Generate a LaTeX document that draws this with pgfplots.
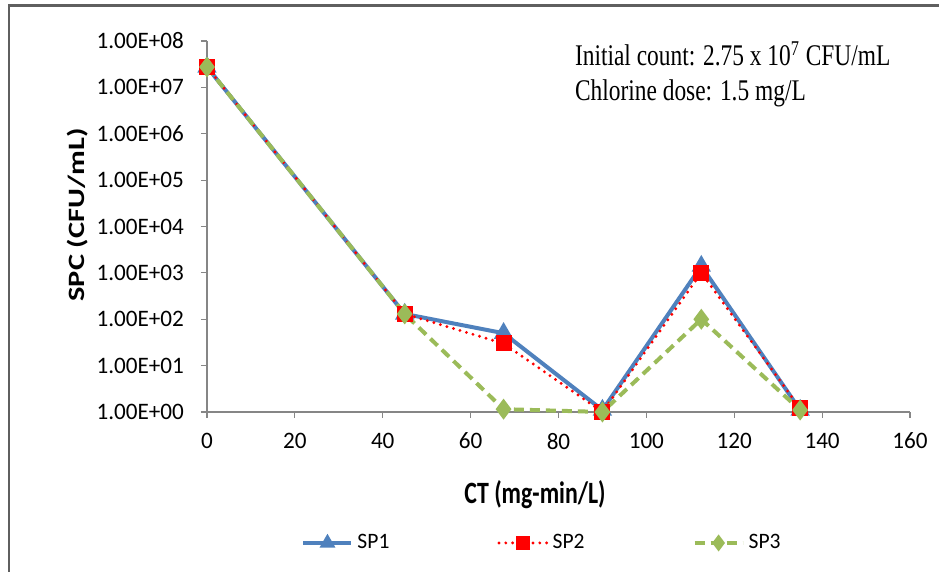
\documentclass[border=0pt]{standalone}
\usepackage{pgfplots}
\pgfplotsset{compat=1.18}
\usepackage{fontspec}
\setmainfont{Carlito}
\newfontfamily\tickfont[FakeStretch=0.98]{Carlito}
\newfontfamily\labfont[FakeStretch=0.77]{Carlito}
\newfontfamily\ylabfont[FakeStretch=1.3]{Carlito}
\newfontfamily\noteFont[FakeStretch=0.78]{Liberation Serif}
\definecolor{spone}{HTML}{4F81BD}
\definecolor{sptwo}{HTML}{FF0000}
\definecolor{spthree}{HTML}{9BBB59}
\definecolor{axgray}{HTML}{868686}
\definecolor{framegray}{HTML}{5F5F5F}

\pgfplotstableread{
ct    sp1      sp2      sp3
0     2.75e7   2.75e7   2.75e7
45    130      130      130
67.5  50       30       1.15
90    1.1      1.0      1.0
112.5 1400     1000     100
135   1.1      1.2      1.1
}\spcdata

\begin{document}
\begin{tikzpicture}
\useasboundingbox (-103.5pt,-80pt) rectangle (366pt,206pt);
\draw[framegray, line width=1.1pt] (-99pt,-81pt) -- (-99pt,203.25pt) -- (367pt,203.25pt);
\begin{axis}[
  at={(0,0)}, anchor=south west,
  scale only axis, width=351.5pt, height=185.5pt,
  xmin=0, xmax=160, xtick={0,20,...,160},
  ymode=log, ymin=1, ymax=1e8,
  ytick={1,10,100,1000,10000,100000,1000000,10000000,100000000},
  yticklabels={1.00E+00,1.00E+01,1.00E+02,1.00E+03,1.00E+04,1.00E+05,1.00E+06,1.00E+07,1.00E+08},
  yminorticks=false,
  axis x line*=bottom, axis y line*=left,
  axis line style={axgray, line width=0.6pt},
  tick style={axgray, line width=0.6pt},
  tick align=outside, major tick length=3pt,
  /pgf/number format/assume math mode=true,
  tick label style={font=\tickfont\fontsize{11.8}{13}\selectfont, black},
  yticklabel style={xshift=-5pt},
  xticklabel style={yshift=-4pt},
  xlabel={CT (mg-min/L)},
  xlabel style={font=\labfont\bfseries\fontsize{15.5}{18}\selectfont, at={(axis description cs:0.4666,-0.2237)}, anchor=center},
  ylabel={SPC (CFU/mL)},
  ylabel style={font=\ylabfont\bfseries\fontsize{11.7}{14}\selectfont, at={(axis description cs:-0.1835,0.531)}, anchor=center},
  legend columns=3,
  legend style={draw=none, fill=none, at={(axis description cs:0.478,-0.353)}, anchor=center,
    font=\tickfont\fontsize{11}{12}\selectfont,
    /tikz/every even column/.append style={column sep=52pt}},
  legend image code/.code={
    \draw[mark repeat=2, mark phase=2, #1, mark size=2.6pt] plot coordinates {(0pt,0pt) (12pt,0pt) (24pt,0pt)};
  },
  clip=false,
]
\addplot[spone, line width=2pt, mark=triangle*, mark size=3.6pt, mark options={solid}]
  table[x=ct, y=sp1] {\spcdata};
\addlegendentry{SP1}
\addplot[sptwo, line width=1.6pt, line cap=round, dash pattern=on 0pt off 3.4pt, mark=square*, mark size=3.2pt, mark options={solid}]
  table[x=ct, y=sp2] {\spcdata};
\addlegendentry{SP2}
\addplot[spthree, line width=2pt, dash pattern=on 5pt off 3pt, mark=diamond*, mark size=3.6pt, mark options={solid}]
  table[x=ct, y=sp3] {\spcdata};
\addlegendentry{SP3}
\node[anchor=north west, inner sep=0pt, align=left, font=\noteFont\fontsize{15}{17.5}\selectfont]
  at (rel axis cs:0.523,1.0) {Initial count: 2.75 x 10\textsuperscript{7} CFU/mL\\Chlorine dose: 1.5 mg/L};
\end{axis}
\end{tikzpicture}
\end{document}
